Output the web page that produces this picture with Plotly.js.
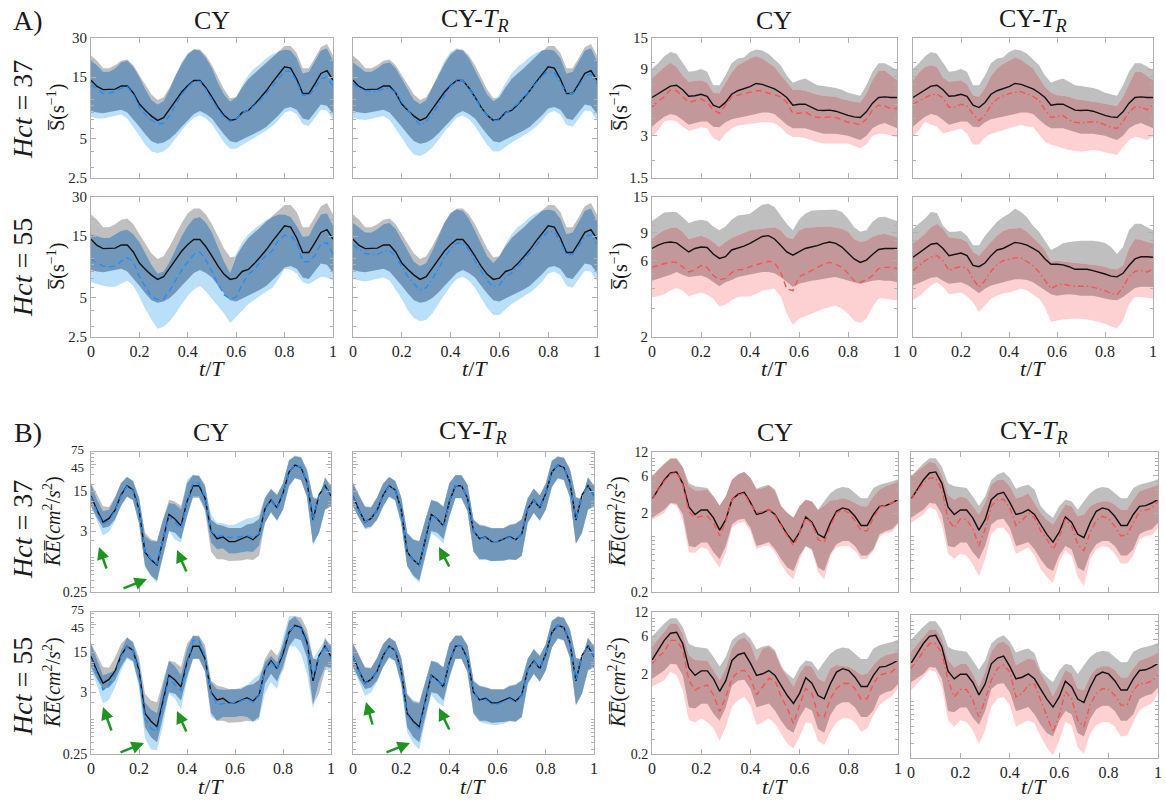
<!DOCTYPE html>
<html><head><meta charset="utf-8">
<script src="https://cdn.plot.ly/plotly-3.0.1.min.js"></script>
<style>html,body{margin:0;padding:0;background:#fff;}#chart{width:1166px;height:802px;}</style>
</head><body><div id="chart"></div>
<script>
// ---------------- DATA (t/T grid and values) ----------------
const T = [0,0.025,0.05,0.075,0.1,0.125,0.15,0.175,0.2,0.225,0.25,0.275,0.3,0.325,0.35,0.375,0.4,0.425,0.45,0.475,0.5,0.525,0.55,0.575,0.6,0.625,0.65,0.675,0.7,0.725,0.75,0.775,0.8,0.825,0.85,0.875,0.9,0.925,0.95,0.975,1];

// A) shear rate, left group (reference in black/gray)
const AL_BLK = [14.2,12.7,12.0,12.0,12.1,12.8,12.8,11.3,9.3,8.3,7.5,6.95,7.3,8.5,9.9,11.5,12.9,14.1,14.1,12.4,10.5,8.8,7.6,6.95,7.1,8.0,8.3,9.2,10.4,11.8,13.7,15.8,18.0,17.6,14.5,11.2,11.2,13.3,16.0,16.8,14.2];
const AL_GRU = [22,20,17.5,17.5,18.5,20,20.5,18.5,15.5,13,11,10,10.5,12.5,15.5,19,22.5,24.5,24.5,22,18.5,15,12,10.3,10.5,12.5,14.5,16,17.5,19.5,21.5,24,26,26,23,17.5,17.5,21,25.5,27,22];
const AL_GRL = [8.2,8.0,7.9,8.0,8.2,8.4,8.0,7.0,6.2,5.4,4.8,4.6,4.7,5.0,5.5,6.2,7.0,7.8,8.2,7.8,7.2,6.2,5.4,4.8,4.7,4.9,5.2,5.5,5.8,6.2,6.8,7.6,8.6,8.8,8.4,7.2,7.0,8.0,9.2,9.0,7.8];
const A1C1_L = [13.0,12.2,11.2,11.3,11.6,12.3,12.6,11.0,8.8,7.7,7.0,6.5,6.6,7.6,9.2,11.0,12.6,13.9,13.9,12.0,10.0,8.4,7.4,6.8,7.1,8.0,8.3,9.0,10.0,11.2,12.8,14.5,16.6,16.7,13.8,10.8,10.8,12.3,14.5,15.0,12.8];
const A1C1_U = [20,18.5,16.5,16.5,17.5,19.5,20,18,15,12,10,9.2,9.8,12,15.5,19.5,23,24.5,24,21,17.5,13.5,11,9.7,10.5,13,15.5,17.5,19,21,22.5,23.5,24.5,24,21,16,16.5,20,24,25,20];
const A1C1_D = [7.4,7.2,7.2,7.3,7.5,7.7,7.2,6.2,5.3,4.5,4.0,3.9,4.0,4.4,5.0,5.8,6.6,7.3,7.6,7.2,6.5,5.5,4.7,4.2,4.2,4.5,4.8,5.1,5.4,5.8,6.3,7.0,8.0,8.2,7.8,6.5,6.3,7.2,8.4,8.3,7.0];
const A1C2_L = [13.3,12.4,11.8,11.6,11.6,12.2,12.3,11.3,9.6,8.3,7.2,6.4,6.8,7.8,9.2,11.0,12.7,14.0,14.1,12.4,10.3,8.7,7.6,6.9,7.0,7.9,8.5,9.3,10.5,11.8,13.4,15.3,16.5,16.3,13.5,11.3,11.1,12.8,15.3,15.8,13.3];
const A1C2_U = [19.5,18,16.5,16.5,17.5,19,19.5,17.5,14.5,12,10,9.3,10,12.5,16,20,23.5,25,24,21,17,13.5,11,9.8,11,13.5,16,18,19.5,21.5,23,24,24.5,24,21,16,16.5,20,24,25,20];
const A1C2_D = [7.3,7.1,7.0,7.1,7.3,7.5,7.0,6.0,5.1,4.3,3.8,3.7,3.9,4.3,4.9,5.7,6.5,7.3,7.6,7.1,6.3,5.3,4.5,4.0,4.0,4.3,4.7,5.0,5.3,5.7,6.2,6.9,7.9,8.2,7.7,6.4,6.2,7.1,8.3,8.2,6.9];
const A2C1_L = [10.0,9.3,8.8,8.7,8.8,9.6,10.2,9.5,7.3,6.1,5.1,4.85,4.9,5.7,6.8,8.2,9.5,10.8,11.3,9.8,8.0,6.4,5.3,4.9,5.1,6.4,7.6,8.3,9.6,10.7,11.6,13.9,15.2,15.0,13.5,9.5,9.5,10.6,13.1,13.3,10.8];
const A2C1_U = [15.5,15,14.5,14.5,15.5,16.5,16.8,15.5,13.5,11,9,7.7,8,9.5,12,15,18,20.5,21,19,16,12.5,9.5,7.8,11,13.5,15.5,17,18.5,20,21,22,22,21,18,14.8,15,18.5,22,22.5,18];
const A2C1_D = [6.6,6.4,6.2,6.1,6.1,6.4,6.8,6.2,5.1,4.1,3.4,2.9,3.0,3.3,3.8,4.5,5.2,5.8,6.2,5.6,4.9,4.3,3.8,3.2,3.6,4.0,4.5,4.9,5.2,5.6,6.0,7.0,8.4,8.3,7.7,6.6,6.4,6.8,7.3,7.2,6.8];
const A2C2_L = [12.8,11.8,11.0,10.8,10.8,11.5,11.6,10.4,8.6,7.3,6.4,5.8,6.0,7.0,8.4,10.2,11.9,13.2,13.3,11.7,9.6,8.0,6.8,6.1,6.3,7.2,7.8,8.7,9.8,11.0,12.6,14.6,16.3,16.2,13.5,10.8,10.8,12.5,14.8,15.3,13.0];
const A2C2_U = [19,17.5,16,16,17,18.5,19,17,14,11.5,9.5,8.8,9.3,11.5,15,19,22.5,24,23.5,20.5,16.5,13,10.5,9.3,10.5,13,15.5,17.5,19,21,22.5,23.5,24,23.5,20.5,15.5,16,19.5,23.5,24.5,19.5];
const A2C2_D = [7.0,6.8,6.7,6.8,7.0,7.2,6.8,5.8,4.9,4.0,3.5,3.3,3.4,3.8,4.5,5.3,6.2,7.0,7.3,6.8,6.0,5.0,4.2,3.7,3.7,4.1,4.5,4.8,5.1,5.5,6.0,6.7,7.7,8.0,7.5,6.2,6.0,6.9,8.1,8.0,6.7];

// A) shear rate, right group
const AR1_BLK = [5.64,6.0,6.4,6.8,6.9,6.4,5.75,5.8,5.95,5.75,4.97,4.78,5.2,5.95,6.3,6.5,6.75,7.1,7.0,6.75,6.5,6.1,5.64,4.97,5.05,5.05,4.83,4.58,4.55,4.58,4.5,4.33,4.2,4.1,4.06,4.45,5.14,5.64,5.7,5.64,5.64];
const AR1_GRU = [9.06,9.9,11.1,11.9,11.6,9.9,8.6,8.7,9.0,8.6,6.9,6.9,8.1,9.9,10.7,10.9,11.9,12.4,12.2,11.6,10.6,9.6,8.1,7.2,7.5,7.7,7.3,6.9,6.8,6.7,6.6,6.4,6.1,5.95,5.8,6.9,8.6,9.9,9.9,9.4,8.8];
const AR1_GRL = [3.48,3.8,4.1,4.3,4.2,3.9,3.6,3.7,3.8,3.8,3.48,3.45,3.75,3.95,4.0,4.1,4.2,4.3,4.4,4.4,4.3,3.95,3.6,3.4,3.4,3.4,3.3,3.2,3.1,3.1,3.1,3.05,3.0,2.9,2.8,3.0,3.4,3.6,3.7,3.55,3.4];
const A1C3_L = [4.83,5.3,5.7,6.4,6.3,5.7,5.2,5.35,5.5,5.2,4.6,4.35,4.97,5.7,5.85,6.0,6.1,6.3,6.3,6.05,5.9,5.7,5.2,4.35,4.35,4.45,4.2,4.06,4.06,4.1,4.06,3.9,3.75,3.7,3.6,3.95,4.6,4.97,4.9,4.7,4.7];
const A1C3_U = [7.7,8.5,9.3,10.0,9.3,8.1,7.3,7.4,7.5,7.2,6.1,6.05,7.2,8.5,9.6,10.2,10.7,11.1,10.7,10.0,9.3,8.2,7.2,6.4,6.4,6.3,6.1,5.9,5.8,5.75,5.7,5.5,5.35,5.25,5.2,6.0,7.5,8.8,8.8,8.1,7.5];
const A1C3_D = [2.95,3.3,3.8,3.9,3.8,3.5,3.25,3.35,3.45,3.4,2.9,2.75,3.1,3.4,3.55,3.6,3.65,3.7,3.75,3.75,3.7,3.45,3.1,2.95,2.95,2.9,2.8,2.7,2.65,2.65,2.65,2.65,2.65,2.55,2.45,2.6,3.0,3.1,3.1,3.0,2.95];
const A1C4_L = [5.05,5.3,5.6,5.9,5.95,5.6,4.8,4.8,5.05,4.9,4.3,3.85,4.2,5.0,5.5,5.8,6.0,6.15,6.2,6.0,5.75,5.4,4.6,4.06,4.15,4.2,3.9,3.75,3.72,3.75,3.78,3.75,3.6,3.45,3.39,3.8,4.45,4.83,4.8,4.6,5.05];
const A1C4_U = [7.5,8.5,9.3,9.6,9.3,7.8,7.3,7.4,7.5,7.0,5.85,5.7,6.6,8.0,9.1,9.8,10.4,10.9,10.5,9.8,9.1,7.8,6.7,6.1,5.85,5.8,5.7,5.5,5.4,5.3,5.25,5.2,5.1,5.0,4.9,5.7,7.0,8.6,8.6,8.0,7.5];
const A1C4_D = [2.95,3.3,3.78,3.6,3.5,3.12,3.2,3.3,3.39,3.1,2.6,2.6,2.95,3.1,3.2,3.3,3.39,3.5,3.58,3.5,3.47,3.1,2.72,2.6,2.52,2.45,2.38,2.35,2.31,2.33,2.38,2.35,2.31,2.25,2.19,2.5,2.8,2.96,2.9,2.8,2.96];
const AR2C3_BLK = [7.15,7.5,7.75,7.85,7.75,7.25,6.8,7.15,7.3,7.25,6.6,6.2,6.35,7.0,7.2,7.4,7.7,8.1,8.5,8.6,8.2,7.5,6.8,6.5,6.8,7.15,7.3,7.45,7.7,7.85,7.7,7.3,6.7,6.15,5.85,6.05,6.55,7.05,7.15,7.15,7.15];
const AR2C3_GRU = [10.6,11.3,12.0,12.1,12.1,11.2,10.3,10.6,10.8,10.6,9.8,9.3,9.8,10.8,11.5,11.6,11.8,12.6,13.4,13.6,13.0,11.5,10.2,9.3,10.8,11.8,12.3,12.4,12.5,12.5,12.5,12.1,11.0,9.7,9.1,9.3,10.5,11.2,11.3,11.0,10.6];
const AR2C3_GRL = [4.5,4.6,4.75,4.9,5.1,4.9,4.75,4.8,4.85,4.7,4.4,4.15,4.4,4.55,4.75,4.85,4.9,5.0,5.1,5.1,5.0,4.75,4.4,4.1,4.3,4.4,4.5,4.55,4.6,4.7,4.75,4.6,4.5,4.4,4.3,4.4,4.5,4.55,4.5,4.5,4.4];
const A2C3_L = [5.45,5.6,5.7,5.9,5.85,5.5,5.1,5.25,5.6,5.45,4.85,4.55,4.65,5.05,5.25,5.3,5.5,5.65,5.85,5.95,5.85,5.1,4.0,3.9,4.75,5.0,5.2,5.45,5.7,5.85,5.7,5.45,5.0,4.5,4.4,4.55,4.85,5.35,5.45,5.45,5.35];
const A2C3_U = [8.2,8.8,9.3,9.6,9.7,9.1,8.2,8.4,8.6,8.3,7.85,7.3,7.85,8.3,8.6,8.9,9.3,9.4,9.5,9.6,9.7,9.3,8.4,8.2,9.3,9.6,9.7,9.7,9.8,9.8,9.7,9.5,9.1,8.2,7.85,8.0,8.45,8.7,8.85,8.6,8.4];
const A2C3_D = [3.56,3.6,3.7,3.9,4.05,3.9,3.6,3.7,3.8,3.68,3.48,3.1,3.18,3.4,3.56,3.58,3.6,3.72,3.9,3.95,4.0,3.6,2.8,2.38,2.6,2.7,2.8,2.9,3.0,3.08,3.15,3.0,2.8,2.54,2.45,2.6,3.08,3.48,3.48,3.42,3.4];
const AR2C4_BLK = [6.3,6.7,7.15,7.6,7.7,7.15,6.45,6.55,6.7,6.45,5.6,5.5,5.8,6.45,7.0,7.15,7.5,7.8,7.7,7.5,7.15,6.8,6.15,5.7,5.7,5.65,5.5,5.3,5.3,5.3,5.2,5.1,4.95,4.8,4.75,5.0,5.6,6.15,6.35,6.35,6.3];
const AR2C4_GRU = [9.5,10.2,11.0,12.1,11.9,9.9,9.1,9.1,9.2,8.6,7.5,7.5,8.6,9.5,10.5,11.2,11.8,12.7,12.1,11.2,9.9,9.1,7.9,7.0,7.3,7.7,7.85,7.95,8.0,8.0,8.0,7.9,7.75,7.3,6.6,7.3,9.3,10.2,10.2,9.7,9.3];
const AR2C4_GRL = [4.2,4.35,4.5,4.7,4.75,4.5,4.3,4.35,4.4,4.25,4.0,3.75,4.0,4.2,4.3,4.4,4.5,4.6,4.6,4.55,4.4,4.15,3.9,3.7,3.62,3.67,3.7,3.67,3.62,3.62,3.62,3.56,3.48,3.42,3.4,3.56,3.8,4.05,4.12,4.12,4.1];
const A2C4_L = [5.2,5.6,6.0,6.3,6.45,6.0,5.2,5.4,5.5,5.4,4.6,4.1,4.5,5.15,5.65,6.0,6.15,6.25,6.25,5.95,5.6,5.1,4.5,4.0,4.2,4.3,4.2,4.15,4.15,4.15,4.1,4.0,3.9,3.75,3.67,4.1,4.75,5.15,5.2,5.1,5.3];
const A2C4_U = [7.7,8.2,8.85,9.7,10.2,9.5,8.4,8.3,8.2,7.85,6.8,6.45,7.15,7.85,8.6,9.2,9.5,9.6,9.6,9.1,8.4,7.7,7.0,5.9,6.0,5.95,5.9,5.8,5.8,5.7,5.7,5.6,5.5,5.35,5.3,5.6,7.15,8.2,8.1,7.85,7.7];
const A2C4_D = [3.4,3.6,3.9,4.2,4.4,4.1,3.7,3.75,3.8,3.6,3.3,2.87,3.15,3.48,3.6,3.75,3.8,3.9,4.0,3.9,3.7,3.48,3.08,2.48,2.54,2.57,2.6,2.6,2.6,2.57,2.54,2.48,2.42,2.33,2.26,2.54,3.2,3.56,3.56,3.52,3.48];

// B) kinetic energy, left group
const BL_BLK = [12.5,7.0,4.3,5.0,7.0,13,19,16,7.2,1.27,0.93,0.75,2.1,5.9,4.9,3.7,10,19,19,11.5,3.0,2.2,2.35,1.95,1.95,2.15,2.4,2.1,2.65,7.4,10.6,7.7,14,33,44,40,22,4.7,13,19,12.5];
const BL_GRU = [21.5,13,8.2,8.0,12,21,27,23,12,2.8,2.14,2.0,4.8,10.7,10.0,8.2,21,29,29,20,4.8,3.9,3.7,3.4,3.4,3.4,3.9,4.1,4.9,11.5,17,13,21,53,63,60,38,12,11,27,19];
const BL_GRL = [8.2,5.1,3.4,3.6,4.8,8.2,12.2,10.5,4.2,0.73,0.49,0.4,1.1,3.0,2.8,2.14,5.5,11.5,11.5,6.8,1.3,0.95,0.95,0.88,0.88,0.9,0.95,0.92,1.1,4.2,6.3,4.6,7.2,18,26,24,12,1.8,2.8,7.2,8.2];
const B1C1_L = [12,6.5,4.0,4.6,6.8,12.5,18.5,15.5,7.0,1.3,0.95,0.78,2.1,5.5,4.3,3.3,10,21,21,12,3.0,2.4,2.5,2.3,2.3,2.4,2.5,2.3,2.7,7.2,10.5,7.5,13.5,33,44,41,22,4.6,13,19,12];
const B1C1_U = [20.5,10.7,6.7,7.2,11.5,21,27,23,11.5,2.45,2.0,1.95,4.8,9.4,9.0,7.2,24,30,28,18.3,5.8,4.2,4.1,3.8,3.9,4.4,5.0,5.2,5.8,12,16.5,13,21,55,65,61,35,11.6,10.7,26,18.6];
const B1C1_D = [8.2,4.5,2.5,2.9,4.5,8.5,12.2,10.5,4.0,0.7,0.47,0.36,1.1,3.0,2.1,1.87,5.5,12.2,12.2,7.5,1.87,1.43,1.47,1.2,1.2,1.25,1.3,1.27,1.64,4.2,6.5,4.5,7.2,19,26,24,12,1.64,2.8,7.2,8.2];
const B1C2_L = [12.3,6.9,4.3,5.0,7.0,13,19,16,7.1,1.27,0.93,0.74,2.1,5.8,4.8,3.6,10,19,19,11.5,3.0,2.2,2.3,1.95,1.95,2.15,2.35,2.1,2.65,7.3,10.5,7.6,14,33,44,40,22,4.7,13,19,12.3];
const B1C2_U = [21,12.5,8.0,7.8,11.8,20.5,27,23,11.8,2.75,2.1,1.95,4.7,10.5,9.8,8.0,21,29,29,19.5,4.7,3.8,3.6,3.35,3.35,3.35,3.8,4.0,4.8,11.3,16.8,12.8,20.5,52,62,59,37,11.8,10.8,26.5,18.8];
const B1C2_D = [8.0,5.0,3.2,3.4,4.7,8.0,12,10.3,4.0,0.7,0.46,0.36,1.05,2.7,2.3,1.8,5.3,11.3,11.3,6.7,1.28,0.94,0.94,0.87,0.87,0.89,0.94,0.91,1.08,4.1,6.2,4.5,7.1,17.8,25.5,23.5,11.8,1.78,2.75,7.1,8.0];
const B2C1_L = [11.5,6.3,3.3,4.0,6.3,12.4,19,16,6.3,1.04,0.7,0.61,1.7,5.4,4.0,3.2,9.0,24,24,12.4,2.84,1.8,1.9,1.9,2.0,2.1,2.3,2.0,2.6,7.4,10,7.6,16,34,43,38,20,5.4,12.4,19.7,11.5];
const B2C1_U = [21,11,5.9,6.5,7.4,16,27,22,9.5,2.0,1.5,1.3,4.0,10.5,8.5,6.0,17,29,28,16,4.5,3.4,3.3,3.35,3.4,3.6,4.0,5.0,6.1,10,13,10,27,64,64,47,30,11.5,17,25,20];
const B2C1_D = [7.5,4.0,1.9,2.2,3.6,7.0,11.5,10,3.6,0.47,0.30,0.29,0.8,2.84,2.3,1.5,4.8,11.5,11.5,7.0,1.1,0.95,1.1,1.1,1.1,1.15,1.1,0.9,1.0,2.84,4.5,3.4,8.5,19,19,14,6.3,1.55,4.5,8.3,6.3];
const B2C2_L = [12.3,6.9,4.2,4.9,7.0,13,19,16,7.0,1.2,0.85,0.68,2.0,5.8,4.8,3.6,10,19,19,11.5,3.0,2.15,2.25,1.85,1.85,2.05,2.3,2.0,2.6,7.3,10.5,7.6,14,33,44,40,22,4.7,13,19,12.3];
const B2C2_U = [21,12.5,7.9,7.8,11.8,20.5,27,23,11.8,2.7,2.0,1.9,4.7,10.5,9.8,8.0,21,29,29,19.5,4.7,3.8,3.6,3.35,3.35,3.35,3.8,4.0,4.8,11.3,16.8,12.8,20.5,52,62,59,37,11.8,10.8,26.5,18.8];
const B2C2_D = [7.8,4.6,2.6,3.0,4.5,8.0,12,10.3,3.9,0.6,0.38,0.3,0.95,2.7,2.0,1.7,5.3,11.3,11.3,6.7,1.25,0.9,0.85,0.8,0.8,0.85,0.92,0.9,1.08,4.1,6.2,4.5,7.1,17.8,25.5,23.5,11.8,1.78,2.75,7.1,8.0];

// B) kinetic energy, right group
const BR_BLK = [3.0,4.0,5.3,6.5,6.7,4.8,2.4,1.93,2.2,2.2,1.75,1.22,1.66,2.97,3.5,3.7,2.75,1.93,2.02,2.22,1.93,1.44,1.08,0.86,1.15,1.8,1.54,1.08,0.98,1.51,2.12,2.34,2.22,1.83,1.4,1.4,1.93,2.45,2.5,2.7,3.0];
const BR_GRU = [5.9,7.2,8.6,10.0,10.0,7.8,4.8,4.4,4.3,4.2,3.27,2.5,3.27,5.3,6.2,6.7,5.6,4.1,4.4,4.6,4.0,2.45,2.02,1.75,2.45,2.97,2.85,2.22,2.85,3.6,4.1,4.3,4.2,3.6,3.1,3.1,4.2,4.6,4.8,5.05,5.4];
const BR_GRL = [1.75,1.98,2.22,2.7,2.65,1.93,0.77,0.74,0.85,0.85,0.64,0.52,0.77,1.44,1.66,1.7,1.31,0.77,0.81,0.86,0.7,0.52,0.41,0.37,0.58,0.77,0.7,0.41,0.37,0.61,0.81,0.89,0.89,0.77,0.58,0.58,0.7,1.08,1.19,1.25,1.51];
const B1C3_L = [2.97,3.9,5.1,6.3,6.6,4.6,2.1,1.75,1.83,1.83,1.51,1.03,1.58,2.97,3.4,3.6,2.6,2.02,2.12,2.22,1.87,1.37,1.03,0.77,1.13,1.75,1.48,0.93,0.85,1.37,2.02,2.22,2.02,1.6,1.2,1.2,1.75,2.4,2.5,2.7,2.97];
const B1C3_U = [5.8,7.1,8.4,9.8,9.8,7.6,4.4,3.9,3.9,4.0,3.27,2.5,3.27,5.3,6.2,6.7,5.6,4.0,4.2,4.5,3.8,2.45,2.02,1.75,2.45,2.97,2.8,2.2,2.5,2.9,2.97,3.1,2.97,2.7,2.45,2.45,3.27,4.0,4.4,4.7,5.0];
const B1C3_D = [1.66,1.85,2.02,2.65,2.5,1.66,0.64,0.63,0.74,0.70,0.52,0.41,0.64,1.31,1.51,1.55,1.19,0.70,0.77,0.78,0.64,0.45,0.34,0.29,0.52,0.77,0.67,0.36,0.29,0.58,0.74,0.77,0.77,0.67,0.52,0.53,0.67,1.0,1.13,1.15,1.44];
const B1C4_L = [2.97,3.9,4.8,5.6,5.6,4.0,1.66,1.31,1.7,1.66,1.27,0.77,1.25,2.45,2.97,3.0,2.33,1.4,1.62,2.0,1.75,1.19,0.93,0.70,0.97,1.7,1.37,0.81,0.67,1.13,1.62,1.83,1.7,1.37,1.03,1.07,1.51,2.12,2.2,2.3,2.85];
const B1C4_U = [5.9,6.8,7.8,9.0,8.6,6.1,3.4,2.97,3.27,3.1,2.45,1.93,2.7,4.6,5.3,5.3,4.4,3.1,3.27,3.6,2.7,2.02,1.66,1.44,1.93,2.57,2.45,1.83,1.93,2.45,2.7,2.85,2.85,2.57,2.22,2.22,2.97,3.8,4.05,4.3,4.6];
const B1C4_D = [1.51,1.7,1.93,2.4,2.22,1.44,0.61,0.53,0.61,0.58,0.45,0.32,0.52,1.08,1.31,1.31,1.03,0.61,0.67,0.74,0.58,0.39,0.31,0.26,0.48,0.67,0.58,0.31,0.24,0.52,0.70,0.77,0.74,0.61,0.46,0.46,0.58,0.93,1.03,1.05,1.31];
const B2C3_L = [2.7,3.3,3.8,5.3,5.3,4.0,1.68,1.26,1.39,1.46,1.1,0.68,1.04,1.77,2.14,2.24,1.77,1.1,1.39,1.77,1.68,1.04,0.75,0.48,0.82,1.32,1.15,0.61,0.58,0.99,1.32,1.53,1.53,1.32,0.97,0.99,1.53,1.95,2.04,2.14,2.55];
const B2C3_U = [4.4,5.4,6.8,8.6,8.6,6.4,3.45,3.0,3.0,2.95,2.24,1.68,2.35,4.2,5.3,5.8,4.8,2.9,4.2,4.4,3.8,2.6,1.85,1.39,2.04,2.6,2.47,1.77,1.6,2.35,2.6,2.55,2.47,2.24,1.95,2.04,2.6,3.15,3.45,3.6,3.8];
const B2C3_D = [1.39,1.53,1.68,2.14,1.95,1.26,0.53,0.5,0.56,0.5,0.42,0.29,0.44,0.78,0.95,1.04,0.82,0.46,0.5,0.56,0.48,0.36,0.27,0.235,0.33,0.5,0.48,0.29,0.26,0.38,0.5,0.56,0.56,0.5,0.38,0.42,0.61,0.82,0.95,1.06,1.32];
const B2C4_L = [2.6,3.3,4.2,5.3,5.3,4.0,1.86,1.15,1.42,1.42,1.05,0.65,1.05,1.86,2.6,2.86,2.36,1.15,1.27,1.61,1.66,1.05,0.68,0.42,0.68,1.33,1.10,0.59,0.49,0.91,1.27,1.46,1.42,1.21,0.91,0.91,1.39,1.69,1.69,1.82,2.14];
const B2C4_U = [4.2,5.2,6.4,7.9,7.9,6.1,3.3,2.67,2.94,2.94,2.25,1.53,2.36,4.2,5.3,5.6,4.8,2.86,3.14,3.45,3.3,2.25,1.69,1.17,1.69,2.48,2.25,1.46,1.39,2.08,2.6,2.77,2.77,2.48,2.0,2.0,2.6,3.25,3.45,3.7,4.0];
const B2C4_D = [1.39,1.7,2.05,2.48,2.36,1.53,0.59,0.49,0.59,0.56,0.44,0.30,0.44,0.865,1.10,1.15,0.91,0.49,0.54,0.59,0.54,0.37,0.27,0.216,0.33,0.56,0.51,0.27,0.226,0.40,0.51,0.56,0.56,0.49,0.37,0.38,0.56,0.785,0.88,0.95,1.27];

// Axis scales (log y) and tick labels
const X_TICKS = [0,0.2,0.4,0.6,0.8,1];
const X_TICKTEXT = ['0','0.2','0.4','0.6','0.8','1'];
const SCALES = {
  AL:  {range:[2.5,30],  ticks:[2.5,5,15,30], text:['2.5','5','15','30'], minor:[3,4,6,7,8,9,10,20]},
  AR1: {range:[1.5,15],  ticks:[1.5,3,9,15], text:['1.5','3','9','15'], minor:[2,4,5,6,7,8,10]},
  AR2: {range:[2,15],    ticks:[2,6,9,15],   text:['2','6','9','15'],   minor:[3,4,5,7,8,10]},
  BL:  {range:[0.25,75], ticks:[0.25,3,15,45,75], text:['0.25','3','15','',''], minor:[0.3,0.4,0.5,0.6,0.7,0.8,0.9,1,2,4,5,6,7,8,9,10,20,30,40,50,60,70]},
  BR:  {range:[0.2,12],  ticks:[0.2,2,6,12], text:['0.2','2','6','12'], minor:[0.3,0.4,0.5,0.6,0.7,0.8,0.9,1,3,4,5,7,8,9,10]}
};
const BL_TOP_LABELS = [[75,'75'],[45,'45']];

// ---------------- STYLE / LAYOUT ----------------
const W = 1166, H = 802;
const SERIF = 'Liberation Serif, Times New Roman, serif';
const DASH = '6px,4px', DASHDOT = '6px,3px,1.5px,3px';
const COL = {
  gray: '#bfbfbf',
  blue: {band:'#b9dff9', over:'#7198bb', line:'#1e8fff'},
  red:  {band:'#fdd0d1', over:'#c3989b', line:'#ff5050'}
};

const PANELS = [
  {box:[91,333,38,178],   sc:'AL',  blk:AL_BLK, gu:AL_GRU, gl:AL_GRL, ln:A1C1_L, up:A1C1_U, lo:A1C1_D, c:'blue', d:DASH,    yl:true,  xl:false},
  {box:[353,597,38,178],  sc:'AL',  blk:AL_BLK, gu:AL_GRU, gl:AL_GRL, ln:A1C2_L, up:A1C2_U, lo:A1C2_D, c:'blue', d:DASHDOT, yl:false, xl:false},
  {box:[652,897,38,178],  sc:'AR1', blk:AR1_BLK, gu:AR1_GRU, gl:AR1_GRL, ln:A1C3_L, up:A1C3_U, lo:A1C3_D, c:'red', d:DASH,    yl:true,  xl:false},
  {box:[913,1153,38,178], sc:'AR1', blk:AR1_BLK, gu:AR1_GRU, gl:AR1_GRL, ln:A1C4_L, up:A1C4_U, lo:A1C4_D, c:'red', d:DASHDOT, yl:false, xl:false},
  {box:[91,333,197,337],  sc:'AL',  blk:AL_BLK, gu:AL_GRU, gl:AL_GRL, ln:A2C1_L, up:A2C1_U, lo:A2C1_D, c:'blue', d:DASH,    yl:true,  xl:true},
  {box:[353,597,197,337], sc:'AL',  blk:AL_BLK, gu:AL_GRU, gl:AL_GRL, ln:A2C2_L, up:A2C2_U, lo:A2C2_D, c:'blue', d:DASHDOT, yl:false, xl:true},
  {box:[652,897,197,337], sc:'AR2', blk:AR2C3_BLK, gu:AR2C3_GRU, gl:AR2C3_GRL, ln:A2C3_L, up:A2C3_U, lo:A2C3_D, c:'red', d:DASH,    yl:true,  xl:true},
  {box:[913,1153,197,337],sc:'AR2', blk:AR2C4_BLK, gu:AR2C4_GRU, gl:AR2C4_GRL, ln:A2C4_L, up:A2C4_U, lo:A2C4_D, c:'red', d:DASHDOT, yl:false, xl:true},
  {box:[91,331,452,592],  sc:'BL',  blk:BL_BLK, gu:BL_GRU, gl:BL_GRL, ln:B1C1_L, up:B1C1_U, lo:B1C1_D, c:'blue', d:DASH,    yl:true,  xl:false},
  {box:[353,594,452,592], sc:'BL',  blk:BL_BLK, gu:BL_GRU, gl:BL_GRL, ln:B1C2_L, up:B1C2_U, lo:B1C2_D, c:'blue', d:DASHDOT, yl:false, xl:false},
  {box:[652,898,452,592], sc:'BR',  blk:BR_BLK, gu:BR_GRU, gl:BR_GRL, ln:B1C3_L, up:B1C3_U, lo:B1C3_D, c:'red', d:DASH,    yl:true,  xl:false},
  {box:[911,1158,452,592],sc:'BR',  blk:BR_BLK, gu:BR_GRU, gl:BR_GRL, ln:B1C4_L, up:B1C4_U, lo:B1C4_D, c:'red', d:DASHDOT, yl:false, xl:false},
  {box:[91,331,612,754],  sc:'BL',  blk:BL_BLK, gu:BL_GRU, gl:BL_GRL, ln:B2C1_L, up:B2C1_U, lo:B2C1_D, c:'blue', d:DASH,    yl:true,  xl:true},
  {box:[353,594,612,754], sc:'BL',  blk:BL_BLK, gu:BL_GRU, gl:BL_GRL, ln:B2C2_L, up:B2C2_U, lo:B2C2_D, c:'blue', d:DASHDOT, yl:false, xl:true},
  {box:[652,898,612,754], sc:'BR',  blk:BR_BLK, gu:BR_GRU, gl:BR_GRL, ln:B2C3_L, up:B2C3_U, lo:B2C3_D, c:'red', d:DASH,    yl:true,  xl:true},
  {box:[911,1158,615,758],sc:'BR',  blk:BR_BLK, gu:BR_GRU, gl:BR_GRL, ln:B2C4_L, up:B2C4_U, lo:B2C4_D, c:'red', d:DASHDOT, yl:false, xl:true}
];

const traces = [];
const layout = {
  width: W, height: H, margin:{l:0,r:0,t:0,b:0}, showlegend:false,
  paper_bgcolor:'#ffffff', plot_bgcolor:'#ffffff',
  font:{family:SERIF, color:'#262626'}, annotations:[]
};
const TICKFONT_A = {family:SERIF, size:15, color:'#262626'};
const TICKFONT_B = {family:SERIF, size:14, color:'#262626'};
const XTICKFONT = {family:SERIF, size:16, color:'#262626'};
const AXCOL = '#b0b0b0';

function band(xa, ya, up, lo, color){
  return {x: T.concat(T.slice().reverse()), y: up.concat(lo.slice().reverse()),
    xaxis:xa, yaxis:ya, type:'scatter', mode:'lines', fill:'toself', fillcolor:color,
    line:{width:0, color:color}, hoverinfo:'skip'};
}
function txt(px, py, text, size, opts){
  layout.annotations.push(Object.assign({xref:'paper', yref:'paper', x:px/W, y:1-py/H, text:text,
    showarrow:false, xanchor:'center', yanchor:'middle', font:{family:SERIF, size:size, color:'#1a1a1a'}}, opts||{}));
}

PANELS.forEach((p, i) => {
  const n = i + 1, sfx = n === 1 ? '' : String(n);
  const xa = 'x' + sfx, ya = 'y' + sfx;
  const s = SCALES[p.sc], cs = COL[p.c];
  const [x0, x1, y0, y1] = p.box;
  const lg0 = Math.log10(s.range[0]), lg1 = Math.log10(s.range[1]);
  layout['xaxis' + sfx] = {
    domain:[x0/W, x1/W], anchor:ya, range:[0,1], tickmode:'array', tickvals:X_TICKS, ticktext:X_TICKTEXT,
    showticklabels:p.xl, ticks:'inside', ticklen:5, tickcolor:AXCOL, showline:true, linecolor:AXCOL,
    linewidth:1, mirror:'ticks', showgrid:false, zeroline:false, tickfont:XTICKFONT, fixedrange:true
  };
  layout['yaxis' + sfx] = {
    domain:[1 - y1/H, 1 - y0/H], anchor:xa, type:'log', range:[lg0, lg1],
    tickmode:'array', tickvals:s.ticks, ticktext:s.text, showticklabels:p.yl,
    ticks:'inside', ticklen:5, tickcolor:AXCOL, showline:true, linecolor:AXCOL, linewidth:1, mirror:'ticks',
    minor:{tickmode:'array', tickvals:s.minor, ticks:'inside', ticklen:3, tickcolor:AXCOL, showgrid:false},
    showgrid:false, zeroline:false, tickfont:(p.sc[0]==='B' ? TICKFONT_B : TICKFONT_A), fixedrange:true
  };
  if (p.sc === 'BL' && p.yl) {
    // top two labels drawn separately so they do not collide
    BL_TOP_LABELS.forEach(([v, lab], k) => {
      const py = y1 - (Math.log10(v) - lg0) / (lg1 - lg0) * (y1 - y0);
      txt(x0 - 5, py + (k === 0 ? -3 : 3), lab, 13, {xanchor:'right', font:{family:SERIF, size:13, color:'#262626'}});
    });
  }
  const ou = p.gu.map((v, k) => Math.min(v, p.up[k]));
  const ol = p.gl.map((v, k) => Math.min(Math.max(v, p.lo[k]), ou[k]));
  traces.push(band(xa, ya, p.gu, p.gl, COL.gray));
  traces.push(band(xa, ya, p.up, p.lo, cs.band));
  traces.push(band(xa, ya, ou, ol, cs.over));
  traces.push({x:T, y:p.blk, xaxis:xa, yaxis:ya, type:'scatter', mode:'lines', line:{color:'#111111', width:1.4}, hoverinfo:'skip'});
  traces.push({x:T, y:p.ln, xaxis:xa, yaxis:ya, type:'scatter', mode:'lines', line:{color:cs.line, width:1.4, dash:p.d}, hoverinfo:'skip'});
});

// ---------------- TEXT ----------------
const CY = 'CY', CYTR = 'CY-<i>T</i><sub><i>R</i></sub>';
txt(28, 20, 'A)', 28); txt(28, 433, 'B)', 28);
[[212,CY],[475,CYTR],[774,CY],[1033,CYTR]].forEach(([x,t]) => txt(x, 20, t, 26));
[[211,CY],[473,CYTR],[775,CY],[1034,CYTR]].forEach(([x,t]) => txt(x, 432, t, 26));
[[110,'37'],[268,'55'],[530,'37'],[687,'55']].forEach(([y,v]) => txt(22, y, '<i>Hct</i> = ' + v, 28, {textangle:-90}));
const SLAB = 'S\u0305(s<sup>\u22121</sup>)';
const KLAB = '<i>K\u0305E\u0305</i>(<i>cm</i><sup>2</sup>/<i>s</i><sup>2</sup>)';
txt(56, 108, SLAB, 20, {textangle:-90}); txt(56, 267, SLAB, 20, {textangle:-90});
txt(619, 108, SLAB, 20, {textangle:-90}); txt(619, 267, SLAB, 20, {textangle:-90});
txt(52, 522, KLAB, 20, {textangle:-90}); txt(52, 683, KLAB, 20, {textangle:-90});
txt(617, 522, KLAB, 20, {textangle:-90}); txt(617, 683, KLAB, 20, {textangle:-90});
[212,475,774,1033].forEach(x => txt(x, 368, '<i>t</i>/<i>T</i>', 22));
[211,473,775,1034].forEach(x => txt(x, 786, '<i>t</i>/<i>T</i>', 22));

// green arrows: [head x, head y, tail x, tail y] in page pixels
const ARROWS = [
  [99,547,107,570],[147,579,122,589],[177,550,187,573],
  [439,547,450,568],
  [103,707,112,732],[144,743,119,753],[177,711,187,733],
  [366,702,373,726],[410,743,385,753],[439,708,450,731]
];
ARROWS.forEach(([hx,hy,tx,ty]) => layout.annotations.push({
  xref:'paper', yref:'paper', x:hx/W, y:1-hy/H, ax:tx-hx, ay:ty-hy, text:'', showarrow:true,
  arrowhead:2, arrowsize:1, arrowwidth:2.5, arrowcolor:'#1c961c', standoff:0
}));

Plotly.newPlot('chart', traces, layout, {staticPlot:true, displayModeBar:false});
</script>
</body></html>
